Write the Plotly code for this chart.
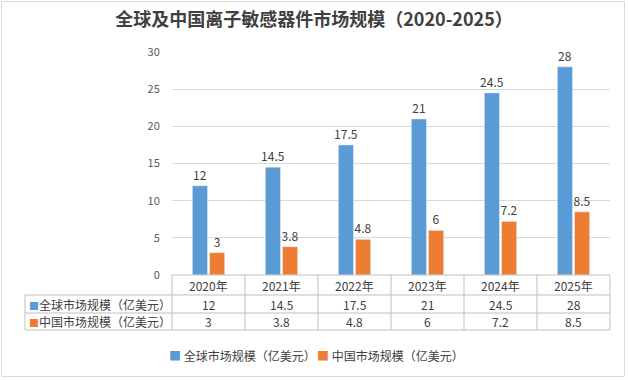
import plotly.graph_objects as go

years = ["2020年", "2021年", "2022年", "2023年", "2024年", "2025年"]
global_vals = [12, 14.5, 17.5, 21, 24.5, 28]
china_vals = [3, 3.8, 4.8, 6, 7.2, 8.5]
series_names = ["全球市场规模（亿美元）", "中国市场规模（亿美元）"]
title_text = "全球及中国离子敏感器件市场规模（2020-2025）"
y_ticks = [0, 5, 10, 15, 20, 25, 30]

BLUE = "#5B9BD5"
ORANGE = "#ED7D31"
TXT = "#404040"
FONT = "Noto Sans CJK SC"

W, H = 628, 380
L, R, T, B = 172, 18, 52, 105
pw = W - L - R
ph = H - T - B

def px2x(px):
    return (px - L) / pw

def py2y(py):
    return (H - B - py) / ph

def fmt(v):
    return f"{v:g}"

fig = go.Figure()
for vals, nm, col in [(global_vals, series_names[0], BLUE), (china_vals, series_names[1], ORANGE)]:
    fig.add_trace(go.Bar(x=list(range(len(years))), y=vals, name=nm,
                         marker_color=col, text=[fmt(v) for v in vals],
                         textposition="outside", cliponaxis=False, constraintext="none",
                         showlegend=False,
                         textfont=dict(size=12, color=TXT, family=FONT)))

n = len(years)
shapes = []
annotations = []
line_col = "#BFBFBF"
y_rows = [py2y(275), py2y(295), py2y(313), py2y(330)]
x_left = px2x(25)

shapes.append(dict(type="line", xref="paper", yref="paper", x0=0, x1=1, y0=y_rows[0], y1=y_rows[0],
                   line=dict(color=line_col, width=1)))
for yy in y_rows[1:]:
    shapes.append(dict(type="line", xref="paper", yref="paper", x0=x_left, x1=1, y0=yy, y1=yy,
                       line=dict(color=line_col, width=1)))
for i in range(n + 1):
    xx = i / n
    shapes.append(dict(type="line", xref="paper", yref="paper", x0=xx, x1=xx, y0=y_rows[0], y1=y_rows[3],
                       line=dict(color=line_col, width=1)))
shapes.append(dict(type="line", xref="paper", yref="paper", x0=x_left, x1=x_left, y0=y_rows[1], y1=y_rows[3],
                   line=dict(color=line_col, width=1)))
shapes.append(dict(type="rect", xref="paper", yref="paper", x0=px2x(1.5), x1=px2x(624.5), y0=py2y(1.5), y1=py2y(376.5),
                   line=dict(color="#D9D9D9", width=1)))

row_centers = [(y_rows[0] + y_rows[1]) / 2, (y_rows[1] + y_rows[2]) / 2, (y_rows[2] + y_rows[3]) / 2]
for i, yr in enumerate(years):
    cx = (i + 0.5) / n
    for r, txt in enumerate([yr, fmt(global_vals[i]), fmt(china_vals[i])]):
        annotations.append(dict(x=cx, y=row_centers[r], xref="paper", yref="paper", text=txt,
                                xanchor="center", yanchor="middle", showarrow=False,
                                font=dict(size=12, color=TXT, family=FONT)))
for k, (nm, col) in enumerate(zip(series_names, [BLUE, ORANGE])):
    annotations.append(dict(x=px2x(27), y=row_centers[k + 1], xref="paper", yref="paper",
                            xanchor="left", yanchor="middle", showarrow=False,
                            text=f"<span style='color:{col};font-size:10px'>■</span>{nm}",
                            font=dict(size=12, color=TXT, family=FONT)))
leg_x = [167, 315]
for k, (nm, col) in enumerate(zip(series_names, [BLUE, ORANGE])):
    annotations.append(dict(x=px2x(leg_x[k]), y=py2y(355), xref="paper", yref="paper",
                            xanchor="left", yanchor="middle", showarrow=False,
                            text=f"<span style='color:{col};font-size:12px'>■</span> {nm}",
                            font=dict(size=12, color=TXT, family=FONT)))

fig.update_layout(
    width=W, height=H,
    margin=dict(l=L, r=R, t=T, b=B, autoexpand=False),
    paper_bgcolor="white", plot_bgcolor="white",
    title=dict(text=f"<b>{title_text}</b>", x=314 / W, xref="container", xanchor="center",
               y=1 - 20 / H, yanchor="middle", yref="container",
               font=dict(size=18, color=TXT, family=FONT)),
    barmode="group", bargap=0.53, bargroupgap=0.12,
    showlegend=False,
    xaxis=dict(range=[-0.5, n - 0.5], showticklabels=False, showgrid=False, zeroline=False,
               showline=False, ticks=""),
    yaxis=dict(range=[0, 30], tickvals=y_ticks, showgrid=True, gridcolor="#D9D9D9", gridwidth=1,
               zeroline=False, showline=False, ticks="outside", ticklen=9, tickcolor="rgba(0,0,0,0)",
               tickfont=dict(size=11, color="#595959", family=FONT)),
    shapes=shapes, annotations=annotations,
)

fig.write_html("out.html", config={"displayModeBar": False},
               post_script="document.body.style.margin='0';document.body.style.overflow='hidden';")
